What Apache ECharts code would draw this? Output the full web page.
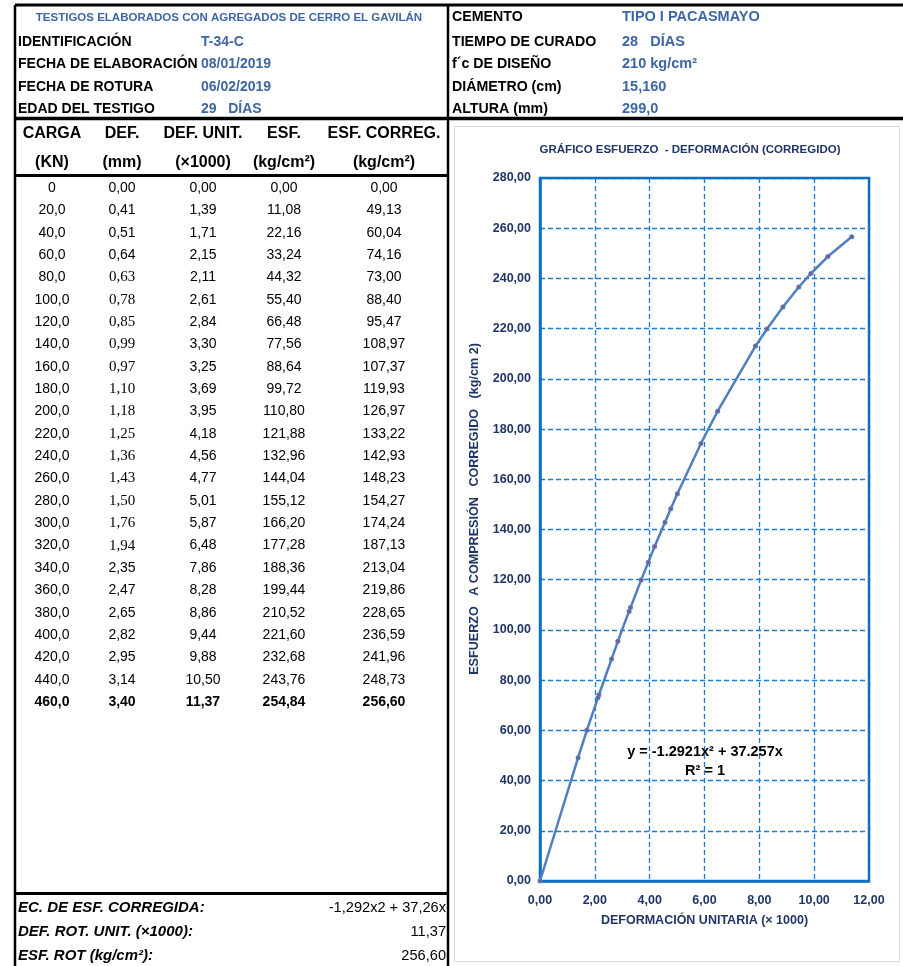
<!DOCTYPE html>
<html>
<head>
<meta charset="utf-8">
<script src="https://cdn.jsdelivr.net/npm/echarts@6/dist/echarts.min.js"></script>
<style>
html,body{margin:0;padding:0;background:#fff;}
#chart{width:903px;height:966px;}
</style>
</head>
<body>
<div id="chart"></div>
<script>
// ---------- DATA ----------
const carga = [0,20,40,60,80,100,120,140,160,180,200,220,240,260,280,300,320,340,360,380,400,420,440,460];
const def = [0.00,0.41,0.51,0.64,0.63,0.78,0.85,0.99,0.97,1.10,1.18,1.25,1.36,1.43,1.50,1.76,1.94,2.35,2.47,2.65,2.82,2.95,3.14,3.40];
const defUnit = [0.00,1.39,1.71,2.15,2.11,2.61,2.84,3.30,3.25,3.69,3.95,4.18,4.56,4.77,5.01,5.87,6.48,7.86,8.28,8.86,9.44,9.88,10.50,11.37];
const esf = [0.00,11.08,22.16,33.24,44.32,55.40,66.48,77.56,88.64,99.72,110.80,121.88,132.96,144.04,155.12,166.20,177.28,188.36,199.44,210.52,221.60,232.68,243.76,254.84];
const esfCorr = [0.00,49.13,60.04,74.16,73.00,88.40,95.47,108.97,107.37,119.93,126.97,133.22,142.93,148.23,154.27,174.24,187.13,213.04,219.86,228.65,236.59,241.96,248.73,256.60];
const fitA = -1.2921;
const fitB = 37.257;
const rotDefUnit = 11.37;
const rotEsf = 256.60;

const headerLeftLabels = ['IDENTIFICACIÓN','FECHA DE ELABORACIÓN','FECHA DE ROTURA','EDAD DEL TESTIGO'];
const headerLeftValues = ['T-34-C','08/01/2019','06/02/2019','29   DÍAS'];
const headerRightLabels = ['CEMENTO','TIEMPO DE CURADO','f´c DE DISEÑO','DIÁMETRO (cm)','ALTURA (mm)'];
const headerRightValues = ['TIPO I PACASMAYO','28   DÍAS','210 kg/cm²','15,160','299,0'];
const colHeads1 = ['CARGA','DEF.','DEF. UNIT.','ESF.','ESF. CORREG.'];
const colHeads2 = ['(KN)','(mm)','(×1000)','(kg/cm²)','(kg/cm²)'];
const xTicks = [0,2,4,6,8,10,12];
const yTicks = [0,20,40,60,80,100,120,140,160,180,200,220,240,260,280];

// ---------- STYLE / LAYOUT ----------
const SANS = '"Liberation Sans", Arial, sans-serif';
const NARROW = '"Liberation Sans Narrow", "Arial Narrow", "Liberation Sans", sans-serif';
const SERIF = '"Liberation Serif", "Times New Roman", serif';
const BLUE_TXT = '#3d66a3';
const NAVY = '#1f3566';
const serifDefRows = [4,5,6,7,8,9,10,11,12,13,14,15,16];
const colX = [52,122,203,284,384];

const fmt = (v, d) => v.toFixed(d).replace('.', ',');

const g = [];
function txt(x, y, text, font, fill, align, valign, extra) {
  const o = { type: 'text', x: x, y: y, silent: true, z: 10,
    style: { text: text, font: font, fill: fill || '#000',
      align: align || 'left', textAlign: align || 'left',
      verticalAlign: valign || 'middle', textVerticalAlign: valign || 'middle' } };
  if (extra) Object.assign(o, extra);
  g.push(o);
}
function line(x1, y1, x2, y2, w, c) {
  g.push({ type: 'line', silent: true, z: 5, shape: { x1, y1, x2, y2 }, style: { stroke: c || '#000', lineWidth: w } });
}

// borders
line(15, 5, 903, 5, 3);
line(15, 5, 15, 966, 2.5);
line(448, 5, 448, 966, 2.5);
line(15, 118.5, 903, 118.5, 3.5);
line(15, 175.5, 448, 175.5, 3);
line(15, 893.5, 448, 893.5, 3);
// chart box (outline only)
g.push({ type: 'rect', silent: true, z: 1, shape: { x: 454.5, y: 126.5, width: 445, height: 835 }, style: { fill: null, stroke: '#d9d9d9', lineWidth: 1 } });

// left header
txt(229, 18, 'TESTIGOS ELABORADOS CON AGREGADOS DE CERRO EL GAVILÁN', 'bold 11.5px ' + NARROW, BLUE_TXT, 'center');
const hy = [42, 64, 87, 109];
headerLeftLabels.forEach((s, i) => txt(18, hy[i], s, 'bold 14px ' + SANS, '#000'));
headerLeftValues.forEach((s, i) => txt(201, hy[i], s, 'bold 14px ' + SANS, BLUE_TXT));
// right header
const ry = [17, 42, 64, 87, 109];
headerRightLabels.forEach((s, i) => txt(452, ry[i], s, 'bold 14.2px ' + SANS, '#000'));
headerRightValues.forEach((s, i) => txt(622, ry[i], s, 'bold 14.5px ' + SANS, BLUE_TXT));

// column headers
colHeads1.forEach((s, i) => txt(colX[i], 134, s, 'bold 16px ' + SANS, '#000', 'center'));
colHeads2.forEach((s, i) => txt(colX[i], 163, s, 'bold 16px ' + SANS, '#000', 'center'));

// table rows
const last = carga.length - 1;
carga.forEach((c, i) => {
  const y = 188 + i * 22.35;
  const b = i === last ? 'bold ' : '';
  txt(colX[0], y, c === 0 ? '0' : fmt(c, 1), b + '14px ' + SANS, '#000', 'center');
  const defFont = serifDefRows.indexOf(i) >= 0 ? '15px ' + SERIF : b + '14px ' + SANS;
  txt(colX[1], y, fmt(def[i], 2), defFont, '#000', 'center');
  txt(colX[2], y, fmt(defUnit[i], 2), b + '14px ' + SANS, '#000', 'center');
  txt(colX[3], y, fmt(esf[i], 2), b + '14px ' + SANS, '#000', 'center');
  txt(colX[4], y, fmt(esfCorr[i], 2), b + '14px ' + SANS, '#000', 'center');
});

// bottom summary
txt(18, 908, 'EC. DE ESF. CORREGIDA:', 'italic bold 15px ' + SANS, '#000');
txt(18, 932, 'DEF. ROT. UNIT. (×1000):', 'italic bold 15px ' + SANS, '#000');
txt(18, 956, 'ESF. ROT (kg/cm²):', 'italic bold 15px ' + SANS, '#000');
txt(446, 908, fmt(fitA, 3) + 'x2 + ' + fmt(fitB, 2) + 'x', '14.6px ' + SANS, '#000', 'right');
txt(446, 932, fmt(rotDefUnit, 2), '14.6px ' + SANS, '#000', 'right');
txt(446, 956, fmt(rotEsf, 2), '14.6px ' + SANS, '#000', 'right');

// chart texts
txt(690, 150, 'GRÁFICO ESFUERZO  - DEFORMACIÓN (CORREGIDO)', 'bold 11.5px ' + NARROW, NAVY, 'center');
txt(475, 509, 'ESFUERZO   A COMPRESIÓN   CORREGIDO   (kg/cm 2)', 'bold 12.6px ' + SANS, NAVY, 'center', 'middle', { rotation: Math.PI / 2 });
txt(705, 752, 'y = ' + fitA + 'x² + ' + fitB + 'x', 'bold 14.5px ' + NARROW, '#000', 'center');
txt(705, 771, 'R² = 1', 'bold 14.5px ' + NARROW, '#000', 'center');

const pts = defUnit.map((x, i) => [x, esfCorr[i]]);

const chart = echarts.init(document.getElementById('chart'), null, { renderer: 'canvas' });
chart.setOption({
  animation: false,
  backgroundColor: '#fff',
  grid: { left: 540, right: 34, top: 178, bottom: 85, show: true, borderColor: '#0e6fc1', borderWidth: 2.5, backgroundColor: 'transparent', z: 3 },
  xAxis: {
    type: 'value', min: xTicks[0], max: xTicks[xTicks.length - 1], interval: 2,
    name: 'DEFORMACIÓN UNITARIA (× 1000)', nameLocation: 'middle', nameGap: 33,
    nameTextStyle: { fontFamily: NARROW, fontWeight: 'bold', fontSize: 12.5, color: NAVY },
    axisLine: { show: true, lineStyle: { color: '#0e6fc1', width: 2.5 } },
    axisTick: { show: false },
    axisLabel: { margin: 13, fontFamily: NARROW, fontWeight: 'bold', fontSize: 12.5, color: NAVY, formatter: v => fmt(v, 2) },
    splitLine: { show: true, lineStyle: { color: '#1b7bd4', type: [5, 3], width: 1.3 } }
  },
  yAxis: {
    type: 'value', min: yTicks[0], max: yTicks[yTicks.length - 1], interval: 20,
    axisLine: { show: true, lineStyle: { color: '#0e6fc1', width: 2.5 } },
    axisTick: { show: false },
    axisLabel: { margin: 9, fontFamily: NARROW, fontWeight: 'bold', fontSize: 12.5, color: NAVY, formatter: v => fmt(v, 2) },
    splitLine: { show: true, lineStyle: { color: '#1b7bd4', type: [5, 3], width: 1.3 } }
  },
  series: [
    { type: 'line', data: pts, smooth: false, symbol: 'circle', symbolSize: 5, showSymbol: true,
      lineStyle: { color: '#4f7fbf', width: 2.5 }, itemStyle: { color: '#4f7fbf' }, z: 4 },
    { type: 'scatter', data: pts, symbol: 'circle', symbolSize: 2, itemStyle: { color: '#e0202a' }, z: 5 }
  ],
  graphic: { elements: g }
});
</script>
</body>
</html>
